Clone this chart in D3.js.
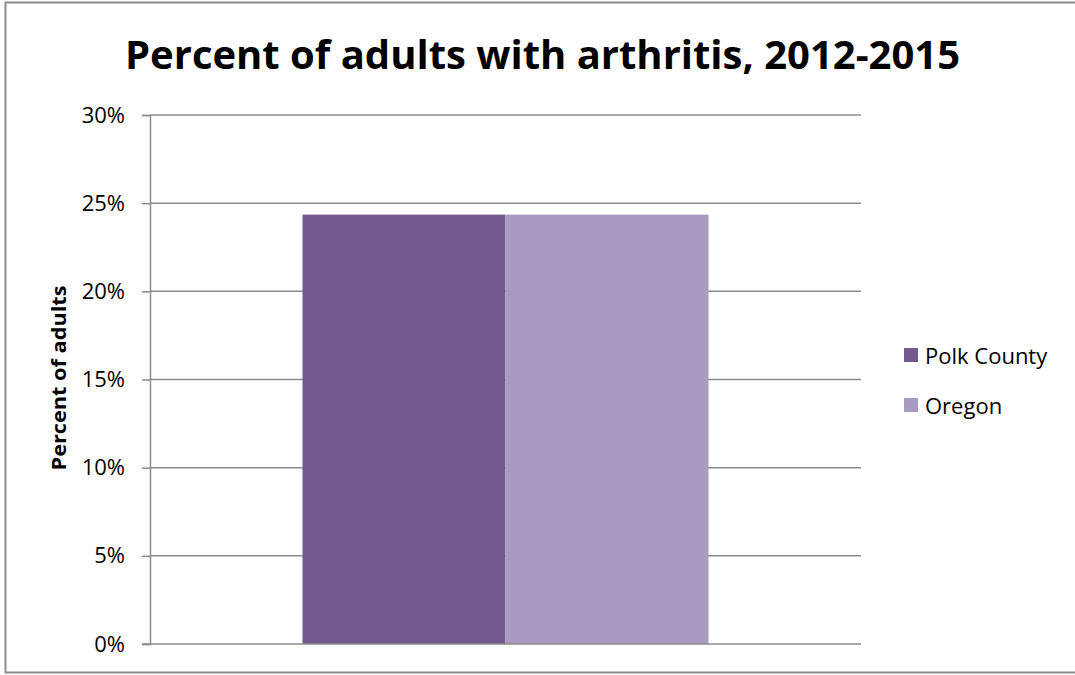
<!DOCTYPE html>
<html>
<head>
<meta charset="utf-8">
<script src="https://cdn.jsdelivr.net/npm/d3@7"></script>
<style>
html,body{margin:0;padding:0;background:#fff;}
svg{display:block;}
</style>
</head>
<body>
<svg id="chart" width="1075" height="675"></svg>
<script>
const categories = ["Arthritis"];
const seriesNames = ["Polk County", "Oregon"];
const polkValues = [24.35];
const oregonValues = [24.35];
const tickValues = [0, 5, 10, 15, 20, 25, 30];
const colors = ["#725990", "#a99abf"];
const titleText = "Percent of adults with arthritis, 2012-2015";
const yAxisTitle = "Percent of adults";

const svg = d3.select("#chart");
const font = "'Open Sans', Lato, 'DejaVu Sans', sans-serif";

// outer frame
svg.append("rect").attr("x", 5.5).attr("y", 2.5).attr("width", 1100).attr("height", 670)
  .attr("fill", "#fff").attr("stroke", "#8c8c8c").attr("stroke-width", 2);

const plot = {left: 150, right: 861, top: 115, bottom: 644};

const y = d3.scaleLinear().domain([0, 30]).range([plot.bottom, plot.top]);
const x0 = d3.scaleBand().domain(categories).range([plot.left, plot.right])
  .paddingInner(0).paddingOuter(0.3756);
const x1 = d3.scaleBand().domain(seriesNames).range([0, x0.bandwidth()]).padding(0);

// gridlines
svg.append("g").selectAll("line").data(tickValues.filter(d => d > 0)).join("line")
  .attr("x1", plot.left).attr("x2", plot.right)
  .attr("y1", d => y(d)).attr("y2", d => y(d))
  .attr("stroke", "#8c8c8c").attr("stroke-width", 1.5);

// bars
const data = categories.map((c, i) => ({cat: c, vals: [polkValues[i], oregonValues[i]]}));
const groups = svg.append("g").selectAll("g").data(data).join("g")
  .attr("transform", d => `translate(${x0(d.cat)},0)`);
groups.selectAll("rect").data(d => d.vals.map((v, j) => ({name: seriesNames[j], v, j}))).join("rect")
  .attr("x", d => x1(d.name)).attr("width", x1.bandwidth())
  .attr("y", d => y(d.v)).attr("height", d => y(0) - y(d.v))
  .attr("fill", d => colors[d.j]);

// y axis
const yAxis = d3.axisLeft(y).tickValues(tickValues).tickFormat(d => d + "%").tickSize(8).tickPadding(17);
const ga = svg.append("g").attr("transform", `translate(${plot.left},0)`).call(yAxis);
ga.select(".domain").attr("stroke", "#8c8c8c").attr("stroke-width", 1.5);
ga.selectAll(".tick line").attr("stroke", "#8c8c8c").attr("stroke-width", 1.5);
ga.selectAll(".tick text").attr("font-family", font).attr("font-size", 22).attr("fill", "#000");

// x axis line
const xAxis = d3.axisBottom(x0).tickSize(0).tickFormat("");
const gx = svg.append("g").attr("transform", `translate(0,${plot.bottom})`).call(xAxis);
gx.select(".domain").attr("stroke", "#8c8c8c").attr("stroke-width", 1.5)
  .attr("d", `M${plot.left - 8},0H${plot.right}`);

// title
svg.append("text").attr("x", 542.5).attr("y", 69).attr("text-anchor", "middle")
  .attr("font-family", font).attr("font-weight", "bold").attr("font-size", 40)
  .attr("textLength", 835).attr("lengthAdjust", "spacingAndGlyphs")
  .attr("fill", "#000").text(titleText);

// y axis title
svg.append("text").attr("transform", `translate(66,378) rotate(-90)`).attr("text-anchor", "middle")
  .attr("font-family", font).attr("font-weight", "bold").attr("font-size", 20)
  .attr("textLength", 185).attr("lengthAdjust", "spacingAndGlyphs")
  .attr("fill", "#000").text(yAxisTitle);

// legend
const leg = svg.append("g").selectAll("g").data(seriesNames).join("g")
  .attr("transform", (d, i) => `translate(904,${348 + i * 50})`);
leg.append("rect").attr("width", 14).attr("height", 14).attr("fill", (d, i) => colors[i]);
leg.append("text").attr("x", 21).attr("y", 16).attr("font-family", font)
  .attr("font-size", 22).attr("fill", "#000").text(d => d);
</script>
</body>
</html>
